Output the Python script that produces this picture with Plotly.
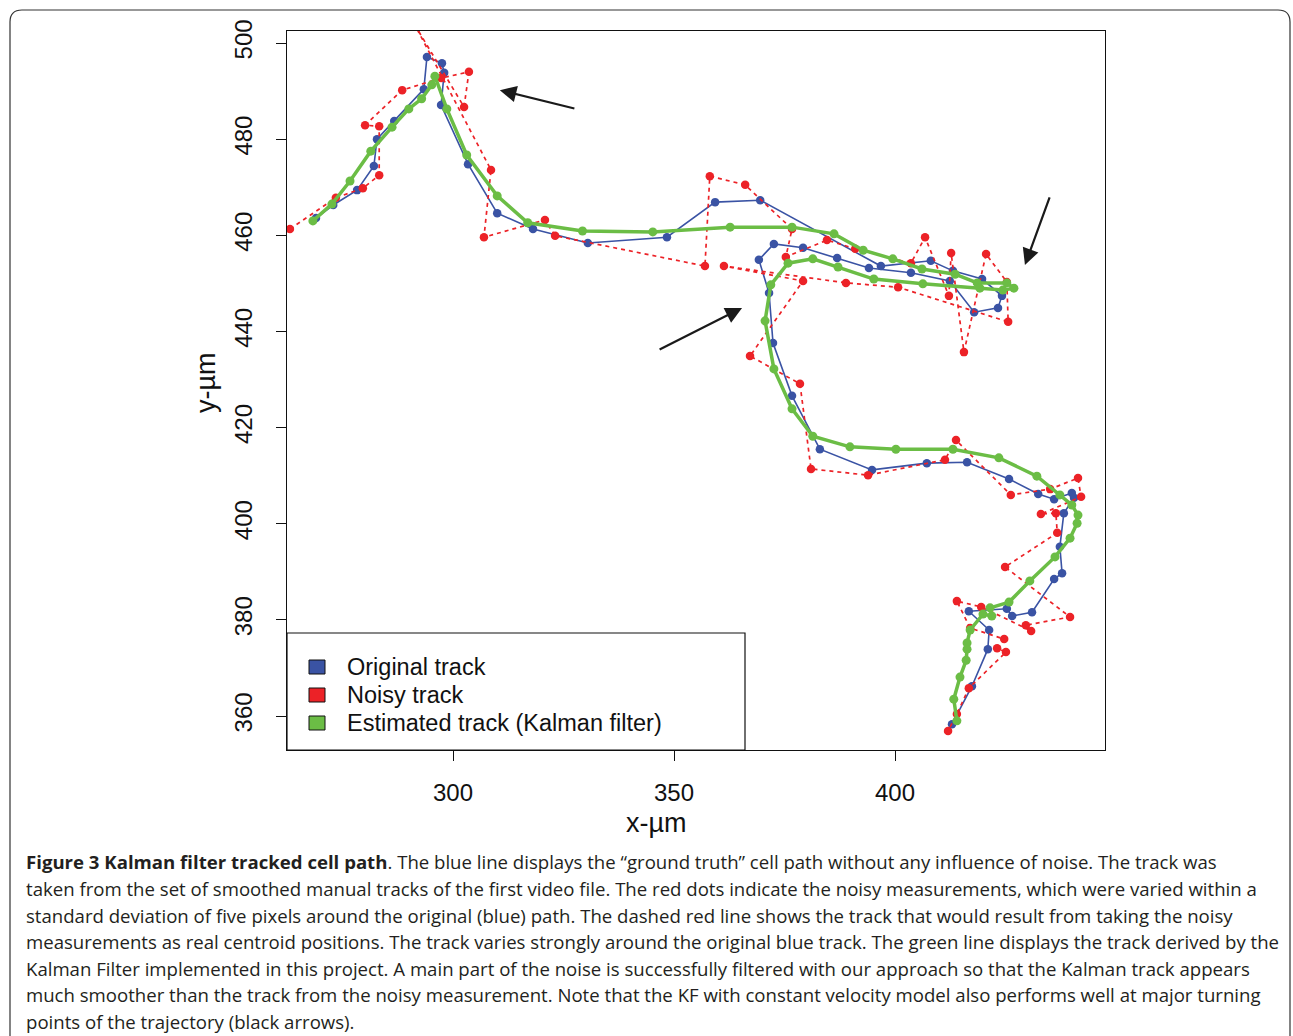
import plotly.graph_objects as go

# ---------------- data (µm) ----------------
orig_x = [269.0, 272.9, 278.3, 282.1, 282.8, 286.7, 293.4, 294.1, 297.5, 298.0,
          297.3, 303.4, 310.0, 318.1, 330.5, 348.4, 359.3, 369.5, 396.8, 408.1,
          413.1, 419.7, 424.2, 423.3, 417.9, 412.4, 403.6, 394.1, 386.9, 379.2,
          372.6, 369.2, 371.5, 372.4, 376.7, 383.0, 394.8, 407.2, 416.3, 425.8,
          432.4, 436.0, 440.0, 440.5, 438.2, 437.3, 437.8, 436.0, 431.0, 426.5,
          425.3, 416.7, 421.3, 421.0, 417.4, 412.9]
orig_y = [463.6, 466.3, 469.4, 474.4, 480.0, 483.8, 490.4, 497.1, 495.8, 493.8,
          487.1, 474.8, 464.6, 461.3, 458.4, 459.6, 466.9, 467.3, 453.6, 454.7,
          452.6, 450.9, 447.4, 444.9, 444.0, 450.5, 452.2, 453.2, 455.3, 457.4,
          458.2, 454.9, 448.0, 437.6, 426.6, 415.5, 411.2, 412.6, 412.8, 409.3,
          406.2, 405.1, 406.4, 405.4, 402.2, 395.2, 389.7, 388.5, 381.6, 380.8,
          382.3, 381.8, 377.9, 373.9, 366.2, 358.3]

noisy_x = [263.1, 273.5, 279.6, 283.3, 283.3, 280.1, 288.5, 297.3, 303.6, 302.5,
           291.4, 308.6, 307.0, 320.8, 323.1, 357.0, 358.1, 366.1, 376.7, 375.3,
           384.6, 391.0, 403.6, 406.8, 412.2, 412.7, 415.6, 420.6, 425.3, 425.6,
           400.7, 388.9, 361.3, 379.2, 367.2, 378.5, 381.0, 393.9, 411.3, 413.8,
           426.2, 435.1, 441.4, 442.1, 433.0, 436.4, 436.7, 424.9, 439.6, 429.6,
           430.8, 419.5, 414.0, 417.0, 424.7, 423.1, 425.1, 416.7, 414.0, 412.0]
noisy_y = [461.3, 467.8, 469.8, 472.5, 482.7, 482.9, 490.2, 492.7, 494.0, 486.7,
           503.7, 473.6, 459.6, 463.2, 459.9, 453.6, 472.3, 470.5, 461.3, 455.5,
           459.0, 457.2, 454.2, 459.6, 447.4, 456.3, 435.7, 456.1, 450.3, 442.0,
           449.2, 450.1, 453.6, 450.5, 434.9, 429.1, 411.4, 410.1, 413.3, 417.4,
           406.0, 407.2, 409.5, 405.6, 402.0, 402.2, 398.1, 391.0, 380.6, 378.9,
           377.7, 382.7, 383.9, 378.3, 376.0, 374.1, 373.3, 365.8, 360.4, 356.9]

kalman_x = [268.3, 272.6, 276.7, 281.4, 286.2, 290.0, 292.9, 295.2, 295.9, 298.6,
            303.1, 310.0, 316.9, 329.3, 345.2, 362.7, 376.7, 386.2, 392.8, 399.5,
            406.1, 413.6, 418.6, 425.3, 426.9, 424.4, 419.2, 406.3, 395.2, 387.1,
            381.4, 375.8, 371.9, 370.6, 372.6, 376.7, 381.4, 389.8, 400.2, 413.1,
            423.5, 432.1, 437.3, 440.0, 441.4, 441.2, 439.6, 436.2, 430.5, 425.8,
            421.5, 421.9, 419.9, 417.0, 416.3, 416.3, 416.1, 414.7, 413.3, 414.0]
kalman_y = [463.0, 466.5, 471.3, 477.5, 482.5, 486.3, 488.4, 491.3, 493.1, 486.3,
            476.7, 468.2, 462.6, 460.9, 460.7, 461.7, 461.7, 460.3, 456.9, 455.1,
            453.0, 451.9, 450.1, 450.1, 449.0, 448.6, 449.0, 449.9, 450.9, 453.4,
            455.1, 454.2, 449.7, 442.2, 432.2, 423.9, 418.2, 416.0, 415.5, 415.5,
            413.7, 409.9, 406.0, 403.9, 401.8, 400.1, 397.0, 393.1, 388.1, 383.7,
            382.5, 380.8, 381.2, 377.9, 375.2, 373.9, 371.6, 368.1, 363.5, 359.0]

# arrows: (tail_x, tail_y, head_x, head_y)
arrows = [(327.8, 486.3, 310.6, 490.2),
          (435.1, 468.2, 429.4, 453.8),
          (346.4, 436.1, 365.4, 444.9)]

x_ticks = [300, 350, 400]
y_ticks = [360, 380, 400, 420, 440, 460, 480, 500]
legend_labels = ["Original track", "Noisy track", "Estimated track (Kalman filter)"]

caption_lines = [
    "<b>Figure 3 Kalman filter tracked cell path</b>. The blue line displays the \u201cground truth\u201d cell path without any influence of noise. The track was",
    "taken from the set of smoothed manual tracks of the first video file. The red dots indicate the noisy measurements, which were varied within a",
    "standard deviation of five pixels around the original (blue) path. The dashed red line shows the track that would result from taking the noisy",
    "measurements as real centroid positions. The track varies strongly around the original blue track. The green line displays the track derived by the",
    "Kalman Filter implemented in this project. A main part of the noise is successfully filtered with our approach so that the Kalman track appears",
    "much smoother than the track from the noisy measurement. Note that the KF with constant velocity model also performs well at major turning",
    "points of the trajectory (black arrows).",
]

BLUE = "#3A53A4"
RED = "#EC2227"
GREEN = "#6BBD45"

# ---------------- geometry (pixels) ----------------
W, H = 1293, 1036
PL, PR, PT, PB = 287, 1105, 31, 750
pw, ph = PR - PL, PB - PT


def px(x):
    return (x - PL) / pw


def py(y):
    return (PB - y) / ph


fig = go.Figure()
fig.add_trace(go.Scatter(x=orig_x, y=orig_y, mode="lines+markers",
                         line=dict(color=BLUE, width=1.6),
                         marker=dict(color=BLUE, size=8.5), showlegend=False,
                         hoverinfo="skip"))
fig.add_trace(go.Scatter(x=noisy_x, y=noisy_y, mode="lines+markers",
                         line=dict(color=RED, width=1.7, dash="4px,4px"),
                         marker=dict(color=RED, size=8.5), showlegend=False,
                         hoverinfo="skip"))
fig.add_trace(go.Scatter(x=kalman_x, y=kalman_y, mode="lines+markers",
                         line=dict(color=GREEN, width=3.5),
                         marker=dict(color=GREEN, size=9), showlegend=False,
                         hoverinfo="skip"))

annotations = []
for tx, ty, hx, hy in arrows:
    annotations.append(dict(x=hx, y=hy, ax=tx, ay=ty, xref="x", yref="y",
                            axref="x", ayref="y", text="", showarrow=True,
                            arrowhead=2, arrowsize=1.5, arrowwidth=2.2,
                            arrowcolor="#1a1a1a", standoff=0))

# axis titles
annotations.append(dict(x=px(656), y=py(823), xref="paper", yref="paper",
                        xanchor="center", yanchor="middle",
                        text="x-\u00b5m", showarrow=False,
                        font=dict(family="Liberation Sans, Arial", size=27, color="#111")))
annotations.append(dict(x=px(206), y=py(383), xref="paper", yref="paper",
                        xanchor="center", yanchor="middle",
                        text="y-\u00b5m", showarrow=False, textangle=-90,
                        font=dict(family="Liberation Sans, Arial", size=27, color="#111")))

# legend (drawn manually)
shapes = [dict(type="rect", xref="paper", yref="paper", x0=0, x1=px(745),
               y0=0, y1=py(633), line=dict(color="#111", width=1.2),
               fillcolor="white", layer="above")]
leg_cols = [BLUE, RED, GREEN]
leg_y = [667, 695, 723]
for lab, col, yy in zip(legend_labels, leg_cols, leg_y):
    shapes.append(dict(type="rect", xref="paper", yref="paper",
                       x0=px(309), x1=px(325), y0=py(yy + 7), y1=py(yy - 7),
                       line=dict(color="#111", width=1), fillcolor=col, layer="above"))
    annotations.append(dict(x=px(345), y=py(yy), xref="paper", yref="paper",
                            xanchor="left", yanchor="middle", text=lab,
                            showarrow=False,
                            font=dict(family="Liberation Sans, Arial", size=23.5, color="#111")))

# outer rounded frame
x0f, x1f = px(10), px(1290)
ytf, ybf = py(10), py(1045)
rx, ry = 12 / pw, 12 / ph
path = (f"M {x0f},{ybf} L {x0f},{ytf - ry} Q {x0f},{ytf} {x0f + rx},{ytf} "
        f"L {x1f - rx},{ytf} Q {x1f},{ytf} {x1f},{ytf - ry} L {x1f},{ybf}")
shapes.append(dict(type="path", path=path, xref="paper", yref="paper",
                   line=dict(color="#333", width=1.2)))

# caption
cap_y = [862, 888.5, 915, 941.5, 968, 994.5, 1021]
for line, yy in zip(caption_lines, cap_y):
    annotations.append(dict(x=px(24), y=py(yy), xref="paper", yref="paper",
                            xanchor="left", yanchor="middle", text=line,
                            showarrow=False, align="left",
                            font=dict(family="Open Sans", size=18.6, color="#231F20")))

axis_common = dict(showgrid=False, zeroline=False, showline=True, mirror=True,
                   linecolor="#111", linewidth=1.3, ticks="outside", ticklen=10,
                   tickwidth=1.2, tickcolor="#111")

fig.update_layout(
    width=W, height=H,
    margin=dict(l=PL, r=W - PR, t=PT, b=H - PB, autoexpand=False),
    paper_bgcolor="white", plot_bgcolor="white",
    hovermode=False,
    xaxis=dict(range=[262.44, 447.51], tickvals=x_ticks, ticklabelstandoff=11,
               tickfont=dict(family="Liberation Sans, Arial", size=24, color="#111"),
               **axis_common),
    yaxis=dict(range=[352.93, 502.5], tickvals=y_ticks, tickangle=-90,
               ticklabelstandoff=14,
               tickfont=dict(family="Liberation Sans, Arial", size=24, color="#111"),
               **axis_common),
    annotations=annotations,
    shapes=shapes,
    showlegend=False,
)

fig.write_html("out.html", config={"displayModeBar": False},
               post_script="document.body.style.margin='0';document.body.style.overflow='hidden';")
